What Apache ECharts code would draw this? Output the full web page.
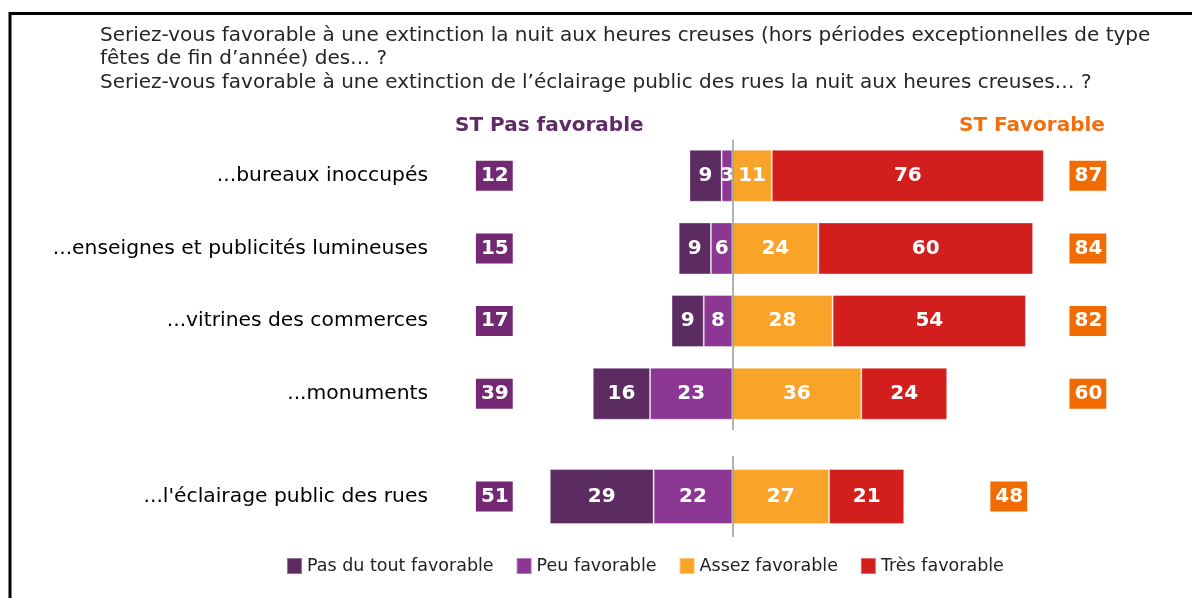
<!DOCTYPE html>
<html>
<head>
<meta charset="utf-8">
<script src="https://cdn.jsdelivr.net/npm/echarts@6/dist/echarts.min.js"></script>
<style>
  html, body { margin: 0; padding: 0; background: #fff; }
  #main { width: 1192px; height: 598px; }
</style>
</head>
<body>
<div id="main"></div>
<script>
	//données
	var categories = ['...bureaux inoccupés', '...enseignes et publicités lumineuses', '...vitrines des commerces', '...monuments'];
	var pasDuTout = [9, 9, 9, 16];
	var peu = [3, 6, 8, 23];
	var assez = [11, 24, 28, 36];
	var tres = [76, 60, 54, 24];
	var stPas = [12, 15, 17, 39];
	var stFav = [87, 84, 82, 60];

	//la dernière ligne (éclairage public) est à part
	var categoriesRue = ["...l'éclairage public des rues"];
	var pasDuToutRue = [29];
	var peuRue = [22];
	var assezRue = [27];
	var tresRue = [21];
	var stPasRue = [51];
	var stFavRue = [48];

	var legendNames = ['Pas du tout favorable', 'Peu favorable', 'Assez favorable', 'Très favorable'];

	//couleurs
	var cPasDuTout = '#5B2B62';
	var cPeu = '#8C3793';
	var cAssez = '#F9A329';
	var cTres = '#D21F1E';
	var cBoxPas = '#722873';
	var cBoxFav = '#F26B00';

	var font = 'DejaVu Sans, Verdana, sans-serif';

	//position des colonnes ST (en unités de l'axe)
	var xStPas = -66.5;
	var xStFav = 99.3;
	var xStFavRue = 77.2;

	var myChart = echarts.init(document.getElementById('main'));

	var barLabel = {
		show: true,
		color: '#fff',
		fontFamily: font,
		fontWeight: 'bold',
		fontSize: 20,
		formatter: function (p) { return Math.abs(p.value); }
	};

	function neg(arr) {
		return arr.map(function (v) { return -v; });
	}

	//série de barres pour une grille
	function barSeries(name, data, color, idx, stack, width) {
		return {
			name: name,
			type: 'bar',
			stack: stack,
			xAxisIndex: idx,
			yAxisIndex: idx,
			barWidth: width,
			data: data,
			itemStyle: { color: color, borderColor: 'rgba(255,255,255,0.35)', borderWidth: 1 },
			label: barLabel,
			emphasis: { disabled: true }
		};
	}

	//étiquettes ST (boîtes colorées)
	function stSeries(vals, cats, x, color, idx) {
		return {
			type: 'scatter',
			xAxisIndex: idx,
			yAxisIndex: idx,
			symbolSize: 1,
			itemStyle: { color: 'rgba(0,0,0,0)', opacity: 1 },
			data: vals.map(function (v, i) { return [x, cats[i], v]; }),
			label: {
				show: true,
				position: 'inside',
				formatter: function (p) { return p.value[2]; },
				color: '#fff',
				fontFamily: font,
				fontWeight: 'bold',
				fontSize: 20,
				lineHeight: 20,
				backgroundColor: color,
				padding: [5, 4, 5, 5]
			},
			emphasis: { disabled: true },
			silent: true
		};
	}

	var centerLine = {
		silent: true,
		symbol: 'none',
		label: { show: false },
		lineStyle: { color: '#9a9a9a', width: 1.5, type: 'solid' },
		data: [{ xAxis: 0 }]
	};

	var series = [
		//côté négatif : Peu d'abord (près de zéro), puis Pas du tout
		barSeries('Peu favorable', neg(peu), cPeu, 0, 'a', 52),
		barSeries('Pas du tout favorable', neg(pasDuTout), cPasDuTout, 0, 'a', 52),
		barSeries('Assez favorable', assez, cAssez, 0, 'a', 52),
		barSeries('Très favorable', tres, cTres, 0, 'a', 52),
		barSeries('Peu favorable', neg(peuRue), cPeu, 1, 'b', 55),
		barSeries('Pas du tout favorable', neg(pasDuToutRue), cPasDuTout, 1, 'b', 55),
		barSeries('Assez favorable', assezRue, cAssez, 1, 'b', 55),
		barSeries('Très favorable', tresRue, cTres, 1, 'b', 55),
		stSeries(stPas, categories, xStPas, cBoxPas, 0),
		stSeries(stFav, categories, xStFav, cBoxFav, 0),
		stSeries(stPasRue, categoriesRue, xStPas, cBoxPas, 1),
		stSeries(stFavRue, categoriesRue, xStFavRue, cBoxFav, 1)
	];
	series[2].markLine = centerLine;
	series[6].markLine = centerLine;

	function yCat(data, idx) {
		return {
			type: 'category',
			gridIndex: idx,
			inverse: true,
			data: data,
			axisLine: { show: false },
			axisTick: { show: false },
			axisLabel: { color: '#000', fontFamily: font, fontSize: 20.3, margin: 18 }
		};
	}

	function xVal(idx) {
		return { type: 'value', gridIndex: idx, min: -80, max: 120, show: false };
	}

	myChart.setOption({
		backgroundColor: '#fff',
		animation: false,
		title: {
			text: 'Seriez-vous favorable à une extinction la nuit aux heures creuses (hors périodes exceptionnelles de type\nfêtes de fin d’année) des… ?\nSeriez-vous favorable à une extinction de l’éclairage public des rues la nuit aux heures creuses… ?',
			left: 100,
			top: 24,
			padding: 0,
			textStyle: { color: '#262626', fontFamily: font, fontWeight: 'normal', fontSize: 20, lineHeight: 23.5 }
		},
		graphic: [
			//cadre
			{ type: 'rect', shape: { x: 10, y: 13.5, width: 1250, height: 650 }, style: { fill: 'none', stroke: '#000', lineWidth: 3 }, silent: true },
			{ type: 'text', left: 455, top: 116, style: { text: 'ST Pas favorable', fill: '#5E2B66', font: 'bold 20px DejaVu Sans' } },
			{ type: 'text', left: 959, top: 116, style: { text: 'ST Favorable', fill: '#F07010', font: 'bold 20px DejaVu Sans' } }
		],
		legend: {
			data: legendNames,
			left: 286,
			top: 557,
			padding: 0,
			itemWidth: 15,
			itemHeight: 16,
			itemGap: 22,
			icon: 'rect',
			selectedMode: false,
			textStyle: { color: '#222', fontFamily: font, fontSize: 17.5 }
		},
		grid: [
			{ left: 446, width: 716, top: 139.5, height: 290.5 },
			{ left: 446, width: 716, top: 456, height: 81 }
		],
		xAxis: [xVal(0), xVal(1)],
		yAxis: [yCat(categories, 0), yCat(categoriesRue, 1)],
		series: series
	});
</script>
</body>
</html>
